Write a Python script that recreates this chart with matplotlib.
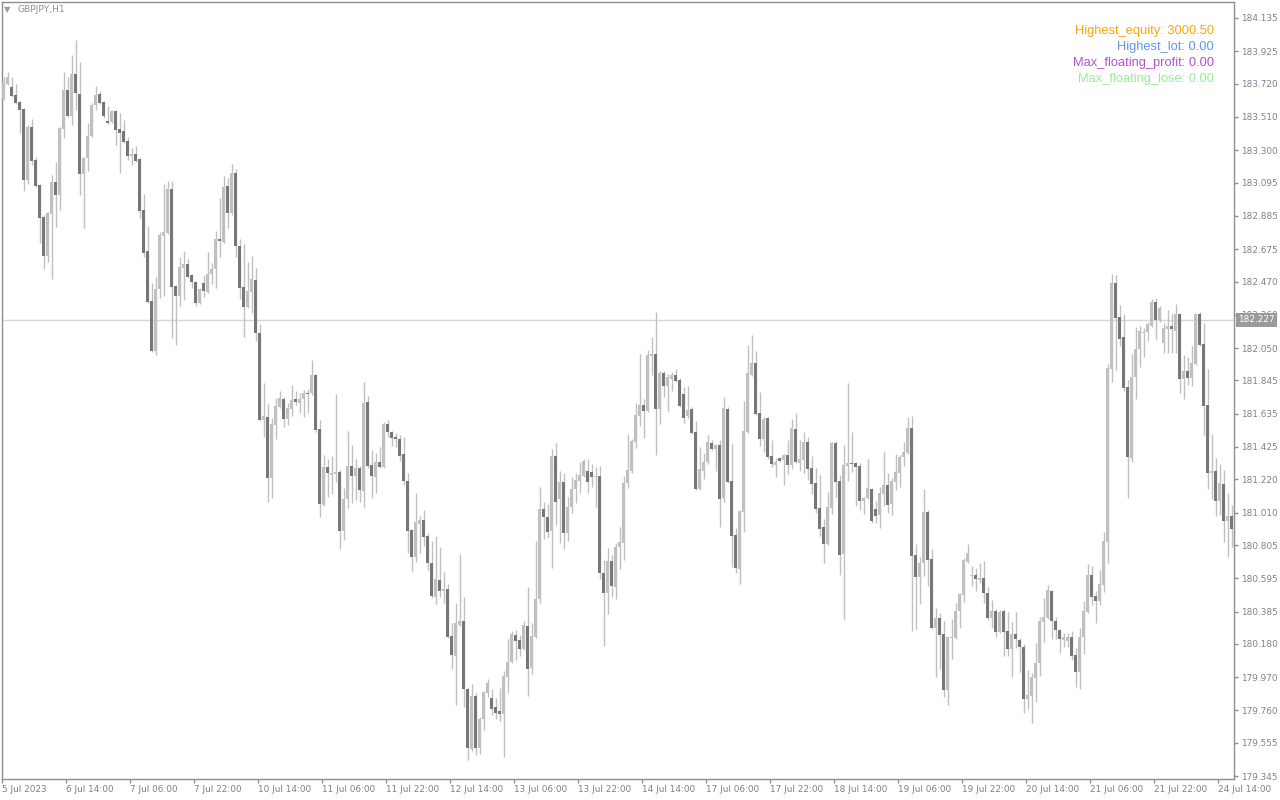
import numpy as np
import matplotlib
matplotlib.use("Agg")
import matplotlib.pyplot as plt
import matplotlib.transforms as mtransforms

# GBPJPY H1 candles (one bar per hour, oldest first)
opens = [
    183.630, 183.718, 183.699, 183.649, 183.604, 183.560, 183.111, 183.446, 183.238, 183.080,
    182.878, 182.631, 182.897, 183.099, 183.017, 183.434, 183.680, 183.516, 183.781, 183.655,
    183.149, 183.250, 183.390, 183.585, 183.655, 183.604, 183.484, 183.478, 183.548, 183.434,
    183.421, 183.358, 183.263, 183.276, 183.244, 182.922, 182.663, 182.347, 182.031, 182.423,
    182.758, 182.777, 183.055, 182.441, 182.378, 182.555, 182.581, 182.511, 182.467, 182.334,
    182.461, 182.404, 182.517, 182.549, 182.739, 182.720, 183.074, 182.903, 183.156, 182.694,
    182.435, 182.309, 182.404, 182.480, 182.144, 181.595, 181.614, 181.228, 181.563, 181.677,
    181.727, 181.601, 181.664, 181.727, 181.702, 181.727, 181.765, 181.765, 181.879, 181.538,
    181.058, 181.298, 181.247, 181.253, 181.266, 180.894, 181.096, 181.304, 181.241, 181.291,
    181.146, 181.708, 181.310, 181.234, 181.329, 181.298, 181.569, 181.519, 181.487, 181.475,
    181.379, 181.209, 180.900, 180.730, 180.938, 180.964, 180.862, 180.692, 180.477, 180.585,
    180.515, 180.528, 180.231, 180.104, 180.300, 180.325, 179.896, 179.516, 179.851, 179.523,
    179.706, 179.870, 179.839, 179.782, 179.756, 179.737, 179.971, 180.066, 180.237, 180.205,
    180.148, 180.294, 180.028, 180.224, 180.464, 181.033, 180.983, 180.894, 181.366, 181.096,
    181.203, 180.881, 181.046, 181.159, 181.209, 181.241, 181.272, 181.266, 181.234, 181.241,
    180.628, 180.502, 180.704, 180.540, 180.793, 180.818, 181.197, 181.272, 181.456, 181.620,
    181.689, 181.651, 181.999, 182.012, 181.664, 181.892, 181.809, 181.854, 181.879, 181.847,
    181.759, 181.620, 181.664, 181.519, 181.159, 181.272, 181.329, 181.449, 181.411, 181.437,
    181.102, 181.664, 181.209, 180.869, 180.654, 181.014, 181.519, 181.879, 181.955, 181.639,
    181.475, 181.607, 181.367, 181.310, 181.354, 181.342, 181.373, 181.310, 181.538, 181.323,
    181.342, 181.456, 181.291, 181.197, 181.039, 180.919, 180.812, 181.039, 181.449, 181.209,
    180.749, 181.304, 181.323, 181.323, 181.304, 181.083, 181.102, 181.159, 181.033, 180.995,
    181.127, 181.184, 181.065, 181.203, 181.260, 181.361, 181.386, 181.544, 180.742, 180.603,
    180.692, 181.014, 180.717, 180.281, 180.344, 180.243, 179.889, 180.218, 180.218, 180.388,
    180.490, 180.698, 180.610, 180.616, 180.585, 180.597, 180.502, 180.344, 180.388, 180.256,
    180.388, 180.262, 180.148, 180.243, 180.205, 180.161, 179.832, 179.851, 179.965, 180.060,
    180.319, 180.344, 180.515, 180.325, 180.268, 180.205, 180.199, 180.224, 180.110, 180.003,
    180.224, 180.382, 180.616, 180.483, 180.452, 180.553, 180.824, 181.917, 182.461, 182.246,
    182.119, 181.803, 181.354, 181.866, 182.044, 182.145, 182.151, 182.189, 182.340, 182.227,
    182.082, 182.170, 182.189, 182.158, 182.265, 181.854, 181.904, 181.860, 181.949, 182.265,
    182.075, 181.689, 181.260, 181.272, 181.083, 181.190, 180.957, 180.989,
]
highs = [
    183.762, 183.794, 183.762, 183.718, 183.611, 183.566, 183.459, 183.497, 183.257, 183.086,
    182.890, 182.909, 183.143, 183.225, 183.446, 183.794, 183.762, 183.901, 183.996, 183.857,
    183.257, 183.472, 183.598, 183.706, 183.674, 183.611, 183.579, 183.554, 183.554, 183.535,
    183.491, 183.383, 183.314, 183.326, 183.250, 183.023, 182.821, 182.461, 182.498, 182.783,
    183.086, 183.105, 183.105, 182.448, 182.625, 182.663, 182.612, 182.517, 182.473, 182.429,
    182.511, 182.656, 182.587, 182.789, 182.998, 183.137, 183.124, 183.213, 183.181, 182.739,
    182.707, 182.593, 182.631, 182.555, 182.201, 181.829, 181.696, 181.607, 181.734, 181.778,
    181.740, 181.702, 181.816, 181.778, 181.765, 181.784, 181.790, 181.974, 181.885, 181.595,
    181.373, 181.348, 181.366, 181.759, 181.279, 181.165, 181.525, 181.437, 181.348, 181.304,
    181.835, 181.746, 181.405, 181.386, 181.424, 181.582, 181.595, 181.525, 181.512, 181.500,
    181.487, 181.260, 180.907, 181.133, 180.989, 181.027, 180.881, 180.831, 180.862, 180.793,
    180.635, 180.559, 180.313, 180.439, 180.749, 180.477, 179.908, 179.927, 179.870, 179.719,
    179.883, 179.959, 179.896, 179.839, 179.902, 180.009, 180.212, 180.262, 180.268, 180.237,
    180.325, 180.540, 180.313, 180.831, 181.172, 181.077, 181.065, 181.411, 181.449, 181.272,
    181.260, 181.108, 181.235, 181.260, 181.329, 181.348, 181.348, 181.317, 181.298, 181.304,
    180.711, 180.787, 180.742, 180.818, 180.919, 181.241, 181.506, 181.475, 181.702, 182.012,
    181.727, 182.037, 182.120, 182.277, 181.904, 181.904, 181.885, 181.898, 181.917, 181.860,
    181.803, 181.809, 181.677, 181.588, 181.424, 181.386, 181.500, 181.468, 181.443, 181.468,
    181.740, 181.677, 181.443, 180.913, 181.027, 181.715, 182.069, 182.132, 182.031, 181.771,
    181.614, 181.614, 181.468, 181.354, 181.361, 181.380, 181.468, 181.601, 181.639, 181.468,
    181.519, 181.487, 181.367, 181.291, 181.247, 180.970, 181.140, 181.456, 181.462, 181.247,
    181.437, 181.829, 181.519, 181.329, 181.323, 181.108, 181.348, 181.165, 181.083, 181.172,
    181.392, 181.260, 181.228, 181.380, 181.373, 181.456, 181.614, 181.620, 180.812, 180.730,
    181.159, 181.027, 180.780, 180.407, 180.376, 180.325, 180.231, 180.338, 180.439, 180.502,
    180.723, 180.812, 180.673, 180.660, 180.692, 180.704, 180.540, 180.458, 180.401, 180.395,
    180.401, 180.382, 180.319, 180.382, 180.218, 180.180, 180.015, 179.996, 180.186, 180.351,
    180.471, 180.553, 180.521, 180.351, 180.275, 180.250, 180.250, 180.262, 180.155, 180.281,
    180.452, 180.685, 180.673, 180.515, 180.647, 180.888, 181.949, 182.517, 182.511, 182.322,
    182.265, 181.847, 182.012, 182.183, 182.189, 182.177, 182.214, 182.359, 182.366, 182.315,
    182.208, 182.290, 182.265, 182.328, 182.271, 182.006, 181.993, 182.063, 182.271, 182.277,
    182.208, 181.917, 181.506, 181.354, 181.317, 181.279, 181.133, 181.058,
]
lows = [
    183.617, 183.712, 183.636, 183.592, 183.408, 183.042, 183.086, 183.206, 183.067, 182.713,
    182.549, 182.593, 182.486, 182.814, 182.922, 183.377, 183.510, 183.459, 183.554, 183.017,
    182.808, 183.168, 183.384, 183.554, 183.592, 183.503, 183.465, 183.472, 183.333, 183.156,
    183.345, 183.238, 183.206, 183.225, 182.871, 182.625, 182.334, 182.024, 182.005, 182.366,
    182.378, 182.771, 182.113, 182.069, 182.315, 182.353, 182.492, 182.429, 182.315, 182.328,
    182.372, 182.397, 182.454, 182.429, 182.625, 182.713, 182.808, 182.890, 182.625, 182.359,
    182.119, 182.303, 182.271, 182.094, 181.588, 181.487, 181.077, 181.102, 181.475, 181.670,
    181.550, 181.563, 181.620, 181.689, 181.639, 181.614, 181.639, 181.752, 181.519, 180.983,
    181.052, 181.108, 181.127, 181.203, 180.780, 180.837, 181.039, 181.071, 181.090, 181.077,
    181.046, 181.291, 181.102, 181.133, 181.291, 181.291, 181.487, 181.430, 181.424, 181.335,
    181.184, 180.755, 180.641, 180.698, 180.755, 180.799, 180.648, 180.471, 180.433, 180.477,
    180.439, 180.218, 180.022, 179.794, 180.294, 179.782, 179.447, 179.504, 179.478, 179.485,
    179.636, 179.845, 179.731, 179.706, 179.693, 179.466, 179.870, 180.060, 180.079, 180.104,
    180.142, 179.851, 179.990, 180.218, 180.439, 180.843, 180.849, 180.660, 180.932, 180.818,
    180.780, 180.831, 181.008, 181.071, 181.133, 181.234, 181.133, 181.171, 181.046, 180.591,
    180.167, 180.370, 180.477, 180.464, 180.654, 180.711, 181.165, 181.260, 181.418, 181.557,
    181.481, 181.645, 181.879, 181.373, 181.569, 181.740, 181.651, 181.778, 181.835, 181.677,
    181.576, 181.607, 181.506, 181.152, 181.152, 181.222, 181.317, 181.405, 181.272, 180.920,
    181.077, 181.197, 180.666, 180.629, 180.559, 180.888, 181.513, 181.873, 181.626, 181.430,
    181.392, 181.348, 181.298, 181.234, 181.329, 181.184, 181.253, 181.285, 181.323, 181.272,
    181.260, 181.216, 181.127, 181.008, 180.862, 180.692, 180.805, 181.001, 181.108, 180.616,
    180.338, 181.209, 181.266, 181.052, 181.027, 181.001, 181.096, 180.945, 180.945, 180.913,
    181.052, 181.008, 180.995, 181.152, 181.171, 181.304, 181.380, 180.262, 180.275, 180.433,
    180.610, 180.546, 180.275, 179.971, 180.022, 179.845, 179.794, 180.085, 180.212, 180.281,
    180.446, 180.692, 180.546, 180.515, 180.566, 180.439, 180.331, 180.281, 180.224, 180.250,
    180.104, 180.104, 179.971, 180.155, 180.003, 179.743, 179.769, 179.680, 179.813, 179.978,
    180.193, 180.338, 180.212, 180.212, 180.123, 180.161, 180.161, 180.079, 179.908, 179.896,
    180.117, 180.376, 180.426, 180.313, 180.426, 180.509, 180.692, 181.835, 181.911, 182.063,
    181.778, 181.102, 181.329, 181.727, 181.930, 181.993, 182.094, 182.183, 182.107, 182.214,
    182.018, 182.018, 182.018, 182.018, 181.765, 181.727, 181.816, 181.809, 181.942, 182.063,
    181.500, 181.159, 181.096, 180.989, 180.995, 180.824, 180.730, 180.793,
]
closes = [
    183.725, 183.762, 183.642, 183.598, 183.554, 183.111, 183.446, 183.232, 183.074, 182.871,
    182.631, 182.903, 183.099, 183.017, 183.440, 183.680, 183.516, 183.781, 183.661, 183.149,
    183.250, 183.390, 183.585, 183.649, 183.598, 183.516, 183.474, 183.548, 183.427, 183.408,
    183.352, 183.263, 183.276, 183.232, 182.915, 182.650, 182.340, 182.031, 182.423, 182.764,
    182.783, 183.055, 182.435, 182.378, 182.562, 182.581, 182.498, 182.467, 182.334, 182.423,
    182.410, 182.517, 182.549, 182.739, 182.726, 183.067, 182.903, 183.156, 182.694, 182.429,
    182.309, 182.410, 182.486, 182.144, 181.595, 181.620, 181.228, 181.569, 181.683, 181.734,
    181.601, 181.670, 181.721, 181.708, 181.727, 181.765, 181.759, 181.879, 181.531, 181.065,
    181.298, 181.260, 181.260, 181.266, 180.894, 181.096, 181.304, 181.241, 181.291, 181.152,
    181.702, 181.304, 181.241, 181.329, 181.298, 181.569, 181.519, 181.481, 181.475, 181.366,
    181.209, 180.894, 180.730, 180.951, 180.964, 180.856, 180.692, 180.483, 180.591, 180.515,
    180.528, 180.224, 180.110, 180.313, 180.325, 179.896, 179.523, 179.851, 179.523, 179.706,
    179.877, 179.934, 179.769, 179.744, 179.737, 179.978, 180.066, 180.243, 180.199, 180.148,
    180.300, 180.022, 180.231, 180.464, 181.033, 180.983, 180.888, 181.366, 181.077, 181.203,
    180.881, 181.046, 181.159, 181.216, 181.247, 181.335, 181.203, 181.234, 181.241, 180.628,
    180.502, 180.704, 180.546, 180.793, 180.824, 181.197, 181.279, 181.462, 181.626, 181.689,
    181.651, 182.005, 182.012, 181.664, 181.892, 181.809, 181.866, 181.879, 181.841, 181.683,
    181.607, 181.658, 181.513, 181.159, 181.285, 181.329, 181.456, 181.411, 181.437, 181.096,
    181.670, 181.203, 180.862, 180.660, 181.020, 181.525, 181.892, 181.955, 181.633, 181.475,
    181.601, 181.361, 181.317, 181.329, 181.335, 181.373, 181.310, 181.544, 181.329, 181.348,
    181.456, 181.285, 181.190, 181.033, 180.907, 180.812, 181.046, 181.449, 181.203, 180.742,
    181.310, 181.323, 181.317, 181.298, 181.083, 181.102, 181.165, 180.957, 180.989, 181.133,
    181.184, 181.058, 181.209, 181.266, 181.361, 181.392, 181.544, 180.736, 180.603, 180.692,
    181.014, 180.711, 180.281, 180.344, 180.237, 179.889, 180.224, 180.224, 180.388, 180.496,
    180.711, 180.755, 180.616, 180.591, 180.597, 180.502, 180.344, 180.388, 180.256, 180.382,
    180.256, 180.148, 180.243, 180.212, 180.161, 179.832, 179.858, 179.971, 180.060, 180.325,
    180.351, 180.521, 180.325, 180.268, 180.212, 180.224, 180.224, 180.104, 180.003, 180.224,
    180.388, 180.616, 180.477, 180.452, 180.559, 180.831, 181.923, 182.461, 182.240, 182.107,
    181.797, 181.361, 181.866, 182.044, 182.158, 182.151, 182.202, 182.340, 182.227, 182.303,
    182.177, 182.189, 182.170, 182.265, 181.854, 181.904, 181.860, 181.955, 182.265, 182.069,
    181.683, 181.260, 181.272, 181.083, 181.197, 180.957, 180.989, 180.907,
]

price_ticks = [184.135, 183.925, 183.720, 183.510, 183.300, 183.095, 182.885, 182.675,
               182.470, 182.260, 182.050, 181.845, 181.635, 181.425, 181.220, 181.010,
               180.805, 180.595, 180.385, 180.180, 179.970, 179.760, 179.555, 179.345]
time_labels = ["5 Jul 2023", "6 Jul 14:00", "7 Jul 06:00", "7 Jul 22:00", "10 Jul 14:00",
               "11 Jul 06:00", "11 Jul 22:00", "12 Jul 14:00", "13 Jul 06:00", "13 Jul 22:00",
               "14 Jul 14:00", "17 Jul 06:00", "17 Jul 22:00", "18 Jul 14:00", "19 Jul 06:00",
               "19 Jul 22:00", "20 Jul 14:00", "21 Jul 06:00", "21 Jul 22:00", "24 Jul 14:00"]
bars_per_label = 16
last_price = 182.227
symbol = "GBPJPY,H1"
info_text = ["Highest_equity: 3000.50", "Highest_lot: 0.00",
             "Max_floating_profit: 0.00", "Max_floating_lose: 0.00"]
info_colors = ["#ffa500", "#6495ed", "#b451d3", "#98ec98"]

o = np.array(opens)
h = np.array(highs)
l = np.array(lows)
c = np.array(closes)
x = np.arange(len(o))
up = c >= o

axis_col = "#8e8e98"
text_col = "#7e8090"

fig = plt.figure(figsize=(12.8, 8), dpi=100)
ax = fig.add_axes([2 / 1280, 21 / 800, 1232 / 1280, 777 / 800])

# wicks then bodies
ax.vlines(x, l, h, color="#c0c0c0", lw=1, zorder=2)
body_low = np.minimum(o, c)
body_h = np.maximum(np.abs(c - o), 0.006)
ax.bar(x[up], body_h[up], bottom=body_low[up], width=0.75, color="#c0c0c0", lw=0, zorder=3)
ax.bar(x[~up], body_h[~up], bottom=body_low[~up], width=0.75, color="#777777", lw=0, zorder=3)

# bid line
ax.axhline(last_price, color="#d6d6d6", lw=1, zorder=1)

ax.set_xlim(-0.425, len(o) - 0.425)
ax.set_ylim(179.327, 184.236)

for s in ax.spines.values():
    s.set_color(axis_col)
    s.set_linewidth(1)

ax.yaxis.tick_right()
ax.set_yticks(price_ticks)
ax.set_yticklabels([f"{v:.3f}" for v in price_ticks])
ax.tick_params(axis="y", direction="out", length=3, width=1, color=axis_col,
               labelsize=6.4, labelcolor=text_col, pad=2)

xt = np.arange(len(time_labels)) * bars_per_label - 0.4
ax.set_xticks(xt)
ax.set_xticklabels(time_labels, ha="left")
ax.tick_params(axis="x", direction="out", length=3, width=1, color=axis_col,
               labelsize=6.4, labelcolor=text_col, pad=1)

# current price tag on the scale (covers most of the neighbouring tick label, as in MT4)
trans = mtransforms.blended_transform_factory(ax.transAxes, ax.transData)
ax.annotate(f"{last_price:.3f}", xy=(1, last_price), xycoords=trans,
            xytext=(3, 0), textcoords="offset points", ha="left", va="center",
            fontsize=6.4, color="white", zorder=10, annotation_clip=False,
            bbox=dict(boxstyle="square,pad=0.3", fc="#9a9a9a", ec="none"))

# symbol caption
fig.text(4 / 1280, 1 - 10 / 800, "\u25bc", fontsize=6, color="#9a9aa8", va="center")
fig.text(18 / 1280, 1 - 10 / 800, symbol, fontsize=6.6, color="#8a90a4", va="center")

# info block top right
for i, (t, col) in enumerate(zip(info_text, info_colors)):
    fig.text(1214 / 1280, 1 - (31 + 16 * i) / 800, t, fontsize=9.3, color=col,
             ha="right", va="center", family="Liberation Sans")

fig.savefig("out.png", dpi=100, facecolor="white")
